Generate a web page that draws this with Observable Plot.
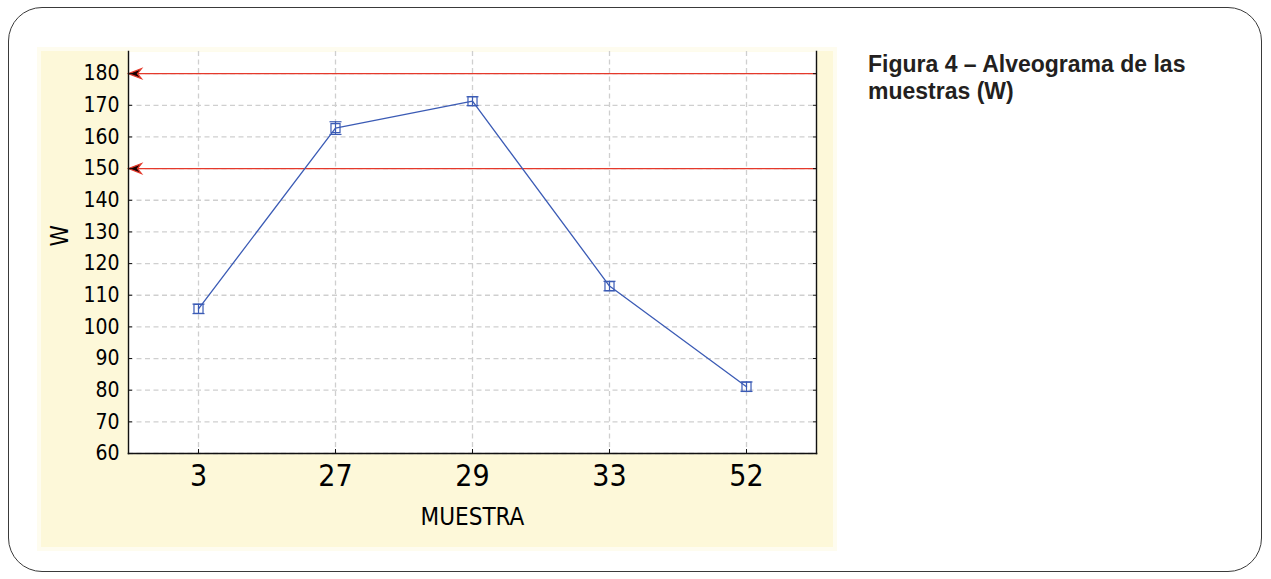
<!DOCTYPE html>
<html>
<head>
<meta charset="utf-8">
<script src="https://cdn.jsdelivr.net/npm/d3@7"></script>
<script src="https://cdn.jsdelivr.net/npm/@observablehq/plot@0.6"></script>
<style>
  html, body { margin: 0; padding: 0; background: #ffffff; }
  #page { position: relative; width: 1271px; height: 579px; overflow: hidden; }
  #border {
    position: absolute; left: 8px; top: 7px; width: 1252px; height: 563px;
    border: 1.5px solid #3a3a3a; border-radius: 34px;
  }
  #panel {
    position: absolute; left: 41px; top: 51px; width: 792px; height: 496px;
    background: #fdf8d9; box-shadow: 0 0 0 4px #fefcef;
  }
  #chart { position: absolute; left: 0; top: 0; }
  #caption {
    position: absolute; left: 868px; top: 51px; width: 380px;
    font-family: "Liberation Sans", Arial, Helvetica, sans-serif;
    font-weight: bold; font-size: 23px; line-height: 27px; color: #231f20;
  }
</style>
</head>
<body>
<div id="page">
  <div id="border"></div>
  <div id="panel"></div>
  <div id="chart"></div>
  <div id="caption">Figura 4 – Alveograma de las<br>muestras (W)</div>
</div>
<script>
// Alveograph strength (W) per sample: mean with error bars
const muestras = ["3", "27", "29", "33", "52"];
const wMedia = [105.7, 162.8, 171.3, 112.9, 81.1];
const wError = [1.5, 2.0, 1.4, 1.5, 1.5];
const yTicks = [60, 70, 80, 90, 100, 110, 120, 130, 140, 150, 160, 170, 180];
const limites = [150, 180];

const datos = muestras.map((m, i) => ({
  muestra: m, w: wMedia[i], lo: wMedia[i] - wError[i], hi: wMedia[i] + wError[i]
}));

const narrow = "'Liberation Sans Narrow', 'Arial Narrow', 'DejaVu Sans Condensed', Arial, sans-serif";
const azul = "#3b5bb5";
const rojo = "#e5392b";

// arrowhead pointing left, tip at the left axis
const flecha = {
  draw(ctx) {
    ctx.moveTo(0, 0);
    ctx.lineTo(13, -5);
    ctx.lineTo(9, 0);
    ctx.lineTo(13, 5);
    ctx.closePath();
  }
};
// horizontal cap for the error bars
const tapa = {
  draw(ctx) {
    ctx.moveTo(-6, 0);
    ctx.lineTo(6, 0);
  }
};

const chart = Plot.plot({
  width: 1271,
  height: 579,
  marginLeft: 128,
  marginRight: 455,
  marginTop: 51,
  marginBottom: 126,
  style: { background: "transparent", fontFamily: narrow, color: "#000" },
  x: { type: "point", domain: muestras, padding: 0.5, label: null },
  y: { domain: [60, 187], ticks: yTicks, label: null },
  marks: [
    Plot.frame({ fill: "white", stroke: null }),
    Plot.gridY(yTicks, { stroke: "#cfcfcf", strokeOpacity: 1, strokeWidth: 1.3, strokeDasharray: "5,3.5" }),
    Plot.gridX(muestras, { stroke: "#cfcfcf", strokeOpacity: 1, strokeWidth: 1.3, strokeDasharray: "5,3.5" }),
    Plot.ruleY(limites, { stroke: rojo, strokeWidth: 1.3 }),
    Plot.dot(limites, { y: d => d, frameAnchor: "left", symbol: flecha, fill: "#1a0000", stroke: rojo, strokeWidth: 1.2 }),
    Plot.frame({ anchor: "left", stroke: "#111", strokeWidth: 1.4 }),
    Plot.frame({ anchor: "right", stroke: "#111", strokeWidth: 1.4 }),
    Plot.frame({ anchor: "bottom", stroke: "#111", strokeWidth: 1.6 }),
    Plot.axisY(yTicks, { anchor: "left", tickSize: -4, tickPadding: 13, fontSize: 21, stroke: "#111", label: null }),
    Plot.axisY(yTicks, { anchor: "right", tickSize: -4, tickFormat: () => "", stroke: "#111", label: null }),
    Plot.axisX(muestras, { anchor: "bottom", tickSize: -4, tickPadding: 15, fontSize: 30, stroke: "#111", label: null }),
    Plot.text(["W"], { frameAnchor: "left", rotate: -90, dx: -68, dy: -6, fontSize: 24, fill: "#000" }),
    Plot.text(["MUESTRA"], { frameAnchor: "bottom", dy: 71, fontSize: 24, fill: "#000" }),
    Plot.line(datos, { x: "muestra", y: "w", stroke: azul, strokeWidth: 1.3 }),
    Plot.ruleX(datos, { x: "muestra", y1: "lo", y2: "hi", stroke: azul, strokeWidth: 1.2 }),
    Plot.dot(datos, { x: "muestra", y: "hi", symbol: tapa, stroke: azul, strokeWidth: 1.2 }),
    Plot.dot(datos, { x: "muestra", y: "lo", symbol: tapa, stroke: azul, strokeWidth: 1.2 }),
    Plot.dot(datos, { x: "muestra", y: "w", symbol: "square", r: 5.1, fill: "none", stroke: azul, strokeWidth: 1.2 })
  ]
});
document.getElementById("chart").appendChild(chart);
</script>
</body>
</html>
